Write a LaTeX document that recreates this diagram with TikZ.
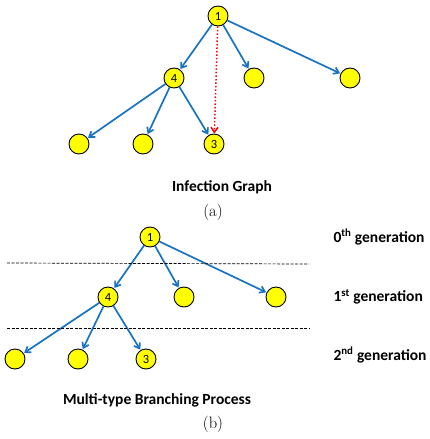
\documentclass[tikz,border=0pt]{standalone}
\usepackage{fontspec}
\setsansfont{Carlito}
\usepackage{tikz}
\usetikzlibrary{arrows.meta,positioning}
\definecolor{edgeblue}{RGB}{25,115,195}
\definecolor{nodeyellow}{RGB}{255,255,0}

\begin{document}
\begin{tikzpicture}[
    x=1pt, y=-1pt,
    vert/.style={draw, circle, fill=nodeyellow, line width=0.9pt, minimum size=20pt, inner sep=0pt, font=\sffamily\fontsize{12.5}{14}\selectfont},
    arr/.style={-{Straight Barb[length=5pt,width=7pt]}, line width=1.7pt, edgeblue, shorten >=0.5pt},
    extra/.style={-{Straight Barb[length=5pt,width=7pt]}, line width=1.5pt, red, dotted},
    sep/.style={dash pattern=on 3pt off 1.5pt, line width=0.7pt},
    title/.style={font=\sffamily\bfseries\fontsize{15.5}{18}\selectfont},
    gen/.style={font=\sffamily\bfseries\fontsize{15.5}{18}\selectfont, anchor=west},
    capt/.style={font=\fontsize{16.5}{18}\selectfont}
]
\useasboundingbox (0,0) rectangle (429,439);

% (a) infection graph
\node[vert] (a1) at (218,16) {1};
\node[vert] (a4) at (174,78) {4};
\node[vert] (a5) at (254,78) {};
\node[vert] (a6) at (350,78) {};
\node[vert] (a7) at (79,144) {};
\node[vert] (a8) at (143,144) {};
\node[vert] (a3) at (214,144) {3};

\draw[arr] (a1) -- (a4);
\draw[arr] (a1) -- (a5);
\draw[arr] (a1) -- (a6);
\draw[arr] (a4) -- (a7);
\draw[arr] (a4) -- (a8);
\draw[arr] (a4) -- (a3);
\draw[extra] (a1) -- (a3);

\node[title] (ta) at (222,187) {Infection Graph};
\node[capt] (capa) at (213,212) {(a)};

% (b) branching process
\node[vert] (b1) at (150,237) {1};
\node[vert] (b4) at (108,297) {4};
\node[vert] (b5) at (184,297) {};
\node[vert] (b6) at (276,297) {};
\node[vert] (b7) at (15,359) {};
\node[vert] (b8) at (78,359) {};
\node[vert] (b3) at (146,359) {3};

\draw[arr] (b1) -- (b4);
\draw[arr] (b1) -- (b5);
\draw[arr] (b1) -- (b6);
\draw[arr] (b4) -- (b7);
\draw[arr] (b4) -- (b8);
\draw[arr] (b4) -- (b3);

\coordinate (s1l) at (7,263);
\coordinate (s1r) at (309,264);
\coordinate (s2l) at (7,328);
\coordinate (s2r) at (309,328);
\draw[sep] (s1l) -- (s1r);
\draw[sep] (s2l) -- (s2r);

\node[gen] (g0) at (330,237) {0\textsuperscript{th} generation};
\node[gen] (g1) at (330,297) {1\textsuperscript{st} generation};
\node[gen] (g2) at (330,355) {2\textsuperscript{nd} generation};

\node[title] (tb) at (157,400) {Multi-type Branching Process};
\node[capt] (capb) at (213,424) {(b)};
\end{tikzpicture}
\end{document}
